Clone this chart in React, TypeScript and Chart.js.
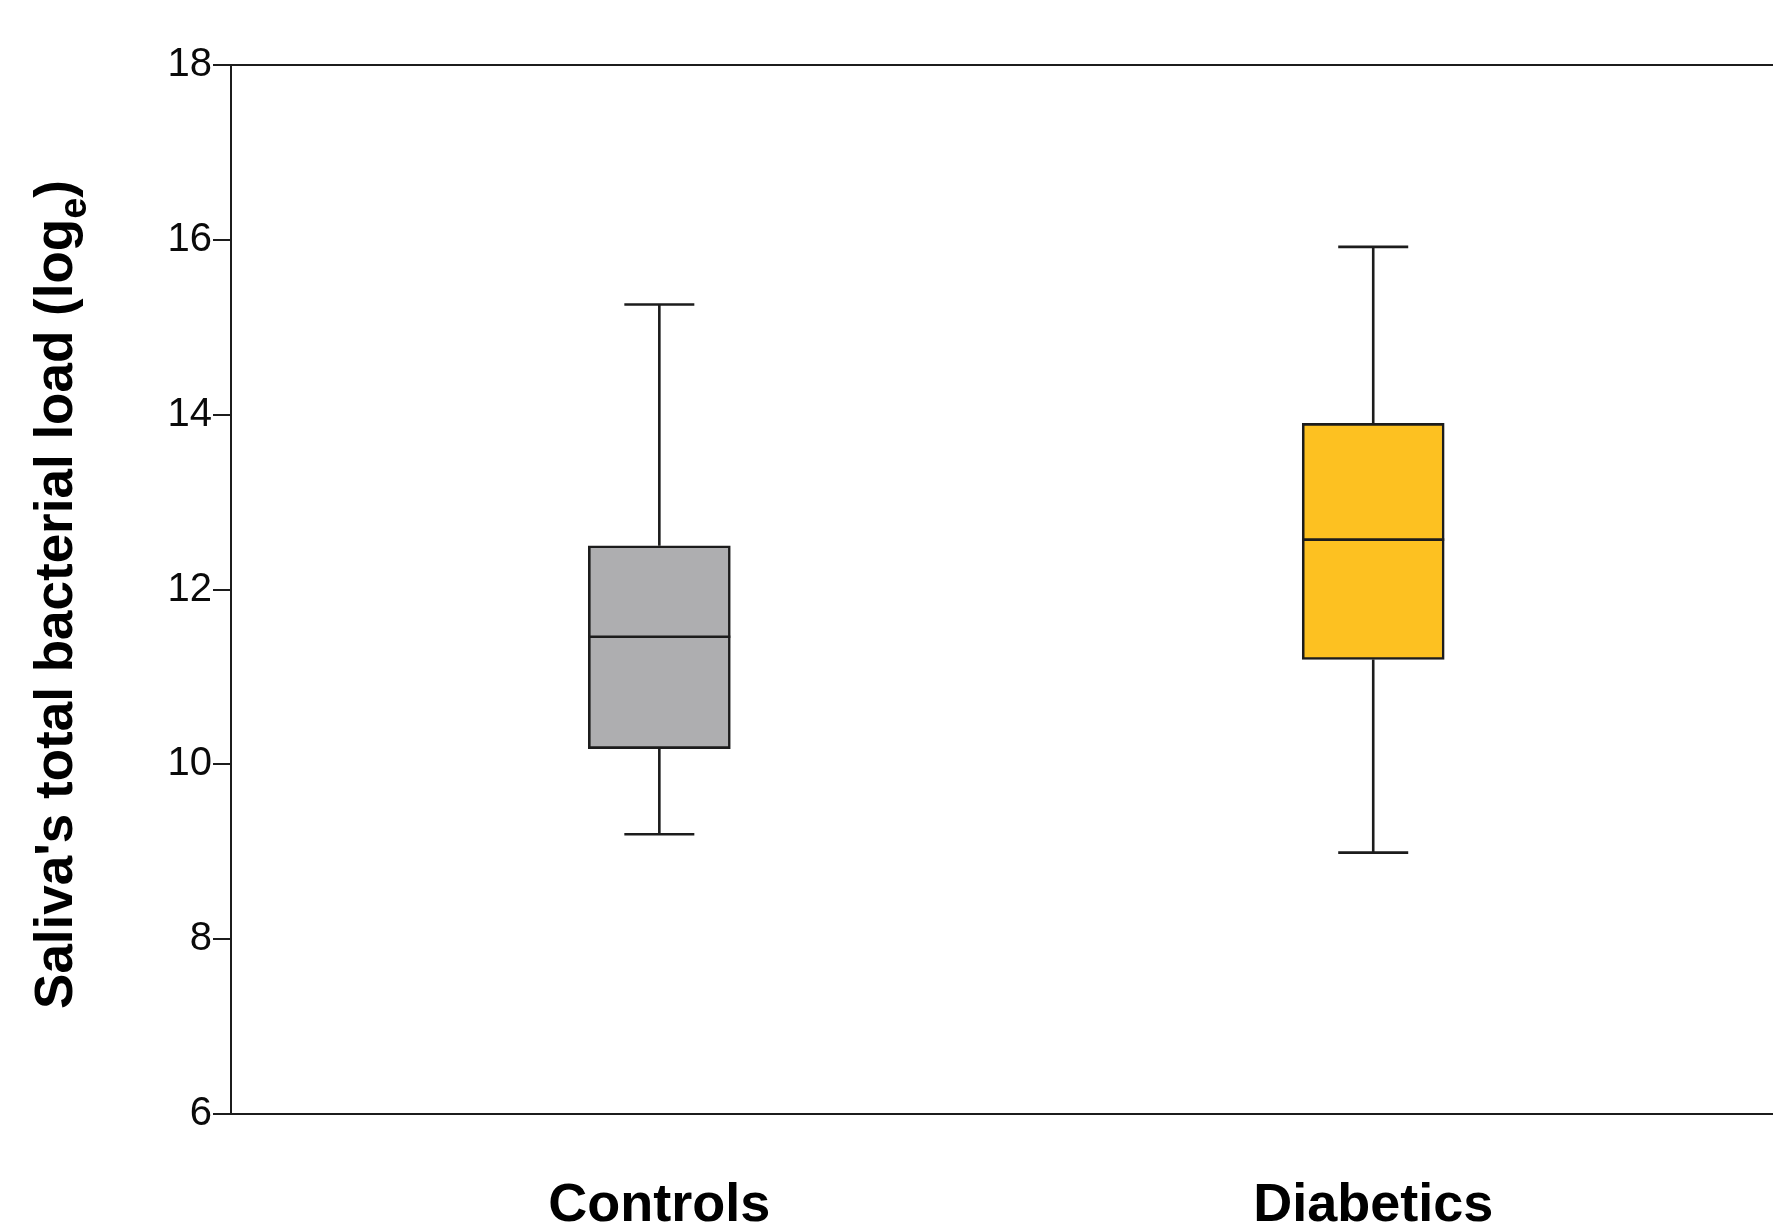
import React, { useEffect, useRef } from "react";
import { Chart, registerables } from "chart.js";

Chart.register(...registerables);

// ---- data ----
const categories = ["Controls", "Diabetics"];
const positions = [1, 2];
const whiskerLow = [9.2, 8.99];
const q1 = [10.18, 11.2];
const median = [11.46, 12.57];
const q3 = [12.5, 13.9];
const whiskerHigh = [15.26, 15.92];
const yTicks = [6, 8, 10, 12, 14, 16, 18];
const boxColors = ["#AEAEB0", "#FDC121"];
const yTitleMain = "Saliva's total bacterial load (log";
const yTitleSub = "e";
const yTitleEnd = ")";

const FONT = "'Liberation Sans', Arial, Helvetica, sans-serif";
const LINE = "#1c1c1c";
const BOX_W = 142;
const CAP_W = 70;

const boxPlugin = {
  id: "boxWhiskers",
  afterDatasetsDraw(chart: any) {
    const { ctx, scales } = chart;
    const xs = scales.x;
    const ys = scales.y;
    ctx.save();
    ctx.strokeStyle = LINE;
    ctx.lineWidth = 2.6;
    ctx.lineCap = "butt";
    for (let i = 0; i < positions.length; i++) {
      const x = xs.getPixelForValue(positions[i]);
      const yLo = ys.getPixelForValue(whiskerLow[i]);
      const yQ1 = ys.getPixelForValue(q1[i]);
      const yMed = ys.getPixelForValue(median[i]);
      const yQ3 = ys.getPixelForValue(q3[i]);
      const yHi = ys.getPixelForValue(whiskerHigh[i]);
      ctx.beginPath();
      ctx.moveTo(x, yQ1);
      ctx.lineTo(x, yLo);
      ctx.moveTo(x - CAP_W / 2, yLo);
      ctx.lineTo(x + CAP_W / 2, yLo);
      ctx.moveTo(x, yQ3);
      ctx.lineTo(x, yHi);
      ctx.moveTo(x - CAP_W / 2, yHi);
      ctx.lineTo(x + CAP_W / 2, yHi);
      ctx.moveTo(x - BOX_W / 2, yMed);
      ctx.lineTo(x + BOX_W / 2, yMed);
      ctx.stroke();
    }
    ctx.restore();
  },
};

const yTitlePlugin = {
  id: "yTitleSub",
  afterDraw(chart: any) {
    const { ctx, chartArea } = chart;
    const mainFont = `bold 53px ${FONT}`;
    const subFont = `bold 38px ${FONT}`;
    ctx.save();
    ctx.font = mainFont;
    const w1 = ctx.measureText(yTitleMain).width;
    const w3 = ctx.measureText(yTitleEnd).width;
    ctx.font = subFont;
    const w2 = ctx.measureText(yTitleSub).width;
    const total = w1 + w2 + w3;
    const cy = (chartArea.top + chartArea.bottom) / 2 + 5;
    ctx.translate(72, cy);
    ctx.rotate(-Math.PI / 2);
    ctx.fillStyle = "#000";
    ctx.textBaseline = "alphabetic";
    ctx.textAlign = "left";
    let x = -total / 2;
    ctx.font = mainFont;
    ctx.fillText(yTitleMain, x, 0);
    x += w1;
    ctx.font = subFont;
    ctx.fillText(yTitleSub, x, 14);
    x += w2;
    ctx.font = mainFont;
    ctx.fillText(yTitleEnd, x, 0);
    ctx.restore();
  },
};

export default function App() {
  const ref = useRef<HTMLCanvasElement | null>(null);
  useEffect(() => {
    if (!ref.current) return;
    const chart = new Chart(ref.current, {
      type: "bar",
      data: {
        datasets: [
          {
            data: positions.map((p, i) => ({ x: p, y: [q1[i], q3[i]] })) as any,
            backgroundColor: boxColors,
            borderColor: LINE,
            borderWidth: 2.6,
            borderSkipped: false,
            barThickness: BOX_W,
          },
        ],
      },
      options: {
        animation: false,
        responsive: false,
        maintainAspectRatio: false,
        layout: { padding: { top: 65, left: 0, right: 0, bottom: 0 }, autoPadding: false },
        plugins: { legend: { display: false }, tooltip: { enabled: false } },
        scales: {
          x: {
            type: "linear",
            position: "bottom",
            offset: false,
            min: 0.4,
            max: 2.56,
            grid: { display: false, drawTicks: false, offset: false },
            border: { display: true, color: LINE, width: 2 },
            afterBuildTicks: (scale: any) => {
              scale.ticks = positions.map((v) => ({ value: v }));
            },
            afterFit: (scale: any) => {
              scale.height = 115;
            },
            ticks: {
              autoSkip: false,
              maxRotation: 0,
              padding: 60,
              color: "#000",
              font: { family: FONT, size: 54, weight: "bold" },
              callback: (v: any) => {
                const i = positions.indexOf(Number(v));
                return i >= 0 ? categories[i] : "";
              },
            },
          },
          x2: {
            type: "linear",
            position: "top",
            offset: false,
            min: 0.4,
            max: 2.56,
            grid: { display: false, drawTicks: false },
            border: { display: true, color: LINE, width: 2 },
            ticks: { display: false },
            afterFit: (scale: any) => {
              scale.height = 0;
            },
          },
          y: {
            type: "linear",
            position: "left",
            min: 6,
            max: 18,
            afterBuildTicks: (scale: any) => {
              scale.ticks = yTicks.map((v) => ({ value: v }));
            },
            afterFit: (scale: any) => {
              scale.width = 231;
            },
            grid: {
              display: true,
              drawOnChartArea: false,
              drawTicks: true,
              tickLength: 18,
              color: LINE,
              lineWidth: 2,
            },
            border: { display: true, color: LINE, width: 2 },
            ticks: {
              padding: 1,
              color: "#0a0a0a",
              font: { family: FONT, size: 40 },
            },
          },
        },
      },
      plugins: [boxPlugin, yTitlePlugin],
    } as any);
    return () => chart.destroy();
  }, []);
  return (
    <div
      style={{
        position: "fixed",
        left: 0,
        top: 0,
        width: 1773,
        height: 1229,
        background: "#fff",
        overflow: "hidden",
      }}
    >
      <canvas ref={ref} width={1773} height={1229} style={{ display: "block" }} />
    </div>
  );
}
